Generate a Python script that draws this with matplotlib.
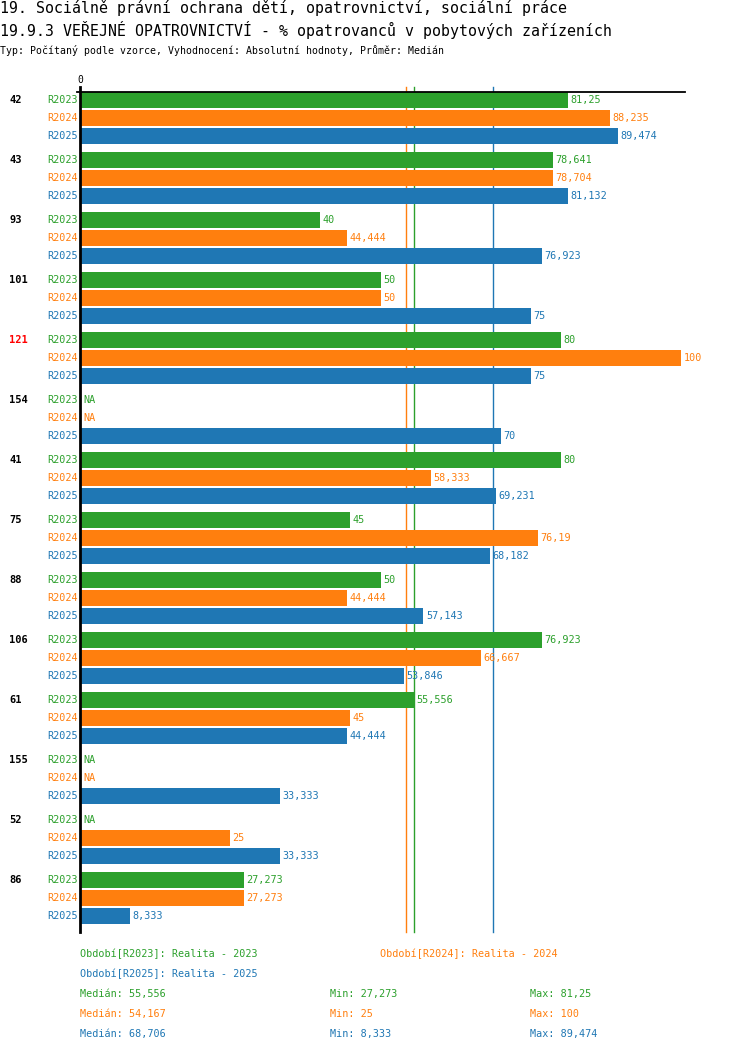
import matplotlib
matplotlib.use('Agg')
import matplotlib.pyplot as plt
import numpy as np

NA = np.nan

groups = ['42', '43', '93', '101', '121', '154', '41', '75', '88', '106', '61', '155', '52', '86']
highlight = '121'
series = ['R2023', 'R2024', 'R2025']
series_names = ['Realita - 2023', 'Realita - 2024', 'Realita - 2025']
colors = ['#2ca02c', '#ff7f0e', '#1f77b4']

r2023 = [81.25, 78.641, 40, 50, 80, NA, 80, 45, 50, 76.923, 55.556, NA, NA, 27.273]
r2024 = [88.235, 78.704, 44.444, 50, 100, NA, 58.333, 76.19, 44.444, 66.667, 45, NA, 25, 27.273]
r2025 = [89.474, 81.132, 76.923, 75, 75, 70, 69.231, 68.182, 57.143, 53.846, 44.444, 33.333, 33.333, 8.333]

# medians as reported by the source (computed from unrounded values)
medians = [55.556, 54.167, 68.706]

title1 = '19. Sociálně právní ochrana dětí, opatrovnictví, sociální práce'
title2 = '19.9.3 VEŘEJNÉ OPATROVNICTVÍ - % opatrovanců v pobytových zařízeních'
subtitle = 'Typ: Počítaný podle vzorce, Vyhodnocení: Absolutní hodnoty, Průměr: Medián'

FONT = 'DejaVu Sans Mono'
W, H = 750, 1052


def fmt(v):
    s = ('%.3f' % v).rstrip('0').rstrip('.')
    return s.replace('.', ',')


fig = plt.figure(figsize=(W / 100, H / 100), dpi=100)

# axes in pixel terms: x 80..685, y 92..932
x0, x1, y0, y1 = 80, 685, 92, 932
px_per_unit = 6.01
ax = fig.add_axes([x0 / W, 1 - y1 / H, (x1 - x0) / W, (y1 - y0) / H])
ax.set_xlim(0, (x1 - x0) / px_per_unit)
ax.set_ylim(y1 - y0, 0)
ax.axis('off')

data = [r2023, r2024, r2025]
gap, pitch = 18, 60
for k, vals in enumerate(data):
    for g, v in enumerate(vals):
        yc = 8 + g * pitch + k * gap
        ax.text(-0.3, yc, series[k], color=colors[k], fontsize=7.3, family=FONT,
                va='center', ha='right', clip_on=False)
        if np.isnan(v):
            ax.text(0.6, yc, 'NA', color=colors[k], fontsize=7.3, family=FONT,
                    va='center', ha='left')
            continue
        ax.barh(yc, v, height=16, color=colors[k], zorder=2)
        ax.text(v + 0.4, yc, fmt(v), color=colors[k], fontsize=7.3, family=FONT,
                va='center', ha='left', zorder=3)

for g, name in enumerate(groups):
    ax.text(-11.8, 8 + g * pitch, name, color='red' if name == highlight else 'black',
            fontsize=7.5, family=FONT, weight='bold', va='center', ha='left', clip_on=False)

for k, m in enumerate(medians):
    ax.plot([m, m], [-5, y1 - y0], color=colors[k], lw=1, zorder=1, clip_on=False)

# axis lines
ax.plot([0, 0], [-5, y1 - y0], color='black', lw=2, zorder=4, clip_on=False)
ax.plot([-0.5, (x1 - x0) / px_per_unit], [0, 0], color='black', lw=1.3, zorder=4, clip_on=False)
ax.text(0, -12, '0', fontsize=7, family=FONT, ha='center', va='center', clip_on=False)

# titles
fig.text(0, 1 - 8 / H, title1, fontsize=10.75, family=FONT, va='center', ha='left')
fig.text(0, 1 - 30 / H, title2, fontsize=10.75, family=FONT, va='center', ha='left')
fig.text(0, 1 - 50 / H, subtitle, fontsize=7.15, family=FONT, va='center', ha='left')

# legend
leg_pos = [(80, 954), (380, 954), (80, 974)]
for k in range(3):
    x, y = leg_pos[k]
    fig.text(x / W, 1 - y / H, 'Období[%s]: %s' % (series[k], series_names[k]),
             color=colors[k], fontsize=7.3, family=FONT, va='center', ha='left')

for k, d in enumerate(data):
    y = 994 + k * 20
    arr = np.array(d, dtype=float)
    fig.text(80 / W, 1 - y / H, 'Medián: ' + fmt(medians[k]), color=colors[k],
             fontsize=7.3, family=FONT, va='center', ha='left')
    fig.text(330 / W, 1 - y / H, 'Min: ' + fmt(np.nanmin(arr)), color=colors[k],
             fontsize=7.3, family=FONT, va='center', ha='left')
    fig.text(530 / W, 1 - y / H, 'Max: ' + fmt(np.nanmax(arr)), color=colors[k],
             fontsize=7.3, family=FONT, va='center', ha='left')

fig.savefig('out.png', dpi=100)
